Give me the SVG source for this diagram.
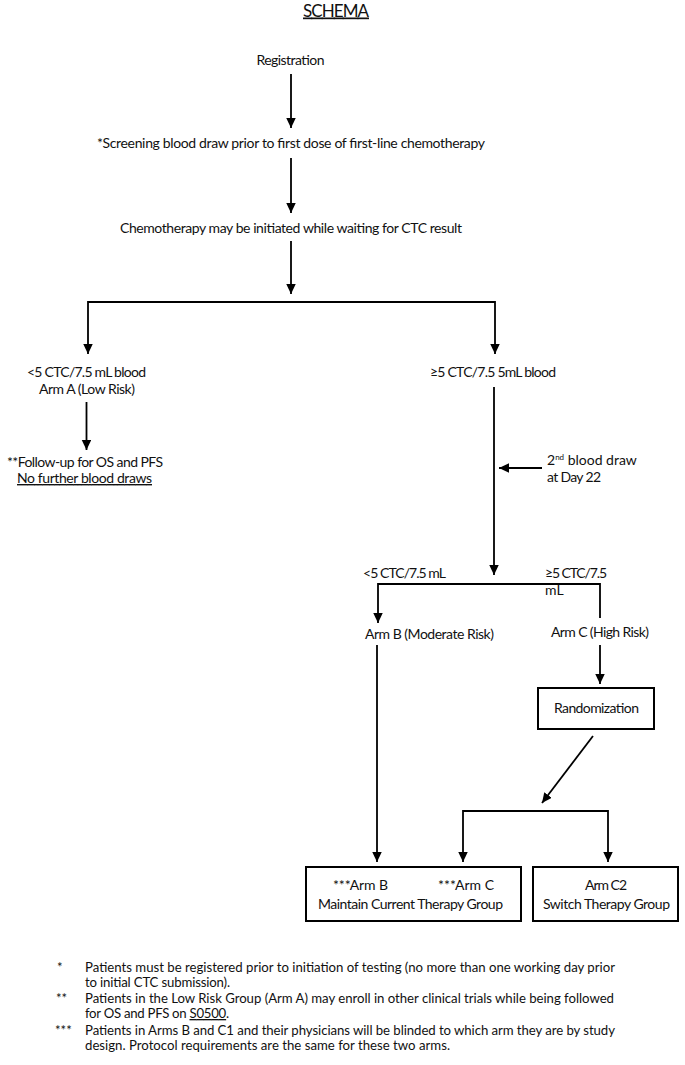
<svg xmlns="http://www.w3.org/2000/svg" width="685" height="1065" viewBox="0 0 685 1065">
<style>
text{font-family:Lato,"Open Sans","Liberation Sans",sans-serif;fill:#111;}
.t{font-size:14px;}
.c{text-anchor:middle;}
.f{font-size:13.2px;}
.u{text-decoration:underline;}
.ln{fill:none;stroke:#000;stroke-width:1.8;}
.ar{marker-end:url(#ah);}
.box{fill:#fff;stroke:#000;stroke-width:2;}
</style>
<defs>
<marker id="ah" markerUnits="userSpaceOnUse" markerWidth="10" markerHeight="10" refX="10" refY="4.75" orient="auto">
<path d="M0,0 L10,4.75 L0,9.5 z" fill="#000"/>
</marker>
</defs>
<rect width="685" height="1065" fill="#fff"/>
<g id="title"><text x="336" y="16.5" class="c u" font-size="17" textLength="66">SCHEMA</text></g>
<g id="connectors">
<path class="ln ar" d="M291,74 V128"/>
<path class="ln ar" d="M291,158 V213"/>
<path class="ln ar" d="M291,241 V294"/>
<path class="ln ar" d="M291,302 H88 V354"/>
<path class="ln ar" d="M291,302 H495 V354"/>
<path class="ln ar" d="M86.5,402 V450"/>
<path class="ln ar" d="M494,387 V575"/>
<path class="ln ar" d="M542,468 H499"/>
<path class="ln ar" d="M600,618 V584 H378 V623"/>
<path class="ln ar" d="M600,645 V684"/>
<path class="ln ar" d="M377,645 V862"/>
<path class="ln ar" d="M593,736 L542,803"/>
<path class="ln ar" d="M535,811 H463 V862"/>
<path class="ln ar" d="M535,811 H608 V862"/>
</g>
<g id="registration"><text class="t c" x="290.5" y="65" textLength="68">Registration</text></g>
<g id="screening"><text class="t c" x="291" y="148" textLength="388">*Screening blood draw prior to first dose of first-line chemotherapy</text></g>
<g id="chemo"><text class="t c" x="291" y="233" textLength="342">Chemotherapy may be initiated while waiting for CTC result</text></g>
<g id="armA">
<text class="t c" x="86.5" y="377" textLength="119">&lt;5 CTC/7.5 mL blood</text>
<text class="t c" x="87" y="394" textLength="96">Arm A (Low Risk)</text>
</g>
<g id="followup">
<text class="t c" x="85" y="467" textLength="156">**Follow-up for OS and PFS</text>
<text class="t c u" x="84.5" y="483" textLength="135">No further blood draws</text>
</g>
<g id="high">
<text class="t c" x="493" y="377" textLength="126">≥5 CTC/7.5 5mL blood</text>
</g>
<g id="seconddraw">
<text class="t" x="547" y="465">2<tspan font-size="8" baseline-shift="super">nd</tspan> blood draw</text>
<text class="t" x="547" y="482" textLength="54">at Day 22</text>
</g>
<g id="splitlabels">
<text class="t" x="363" y="578" textLength="83">&lt;5 CTC/7.5 mL</text>
<text class="t" x="545" y="578" textLength="62">≥5 CTC/7.5</text>
<text class="t" x="545" y="595">mL</text>
</g>
<g id="armB"><text class="t" x="365" y="639" textLength="129">Arm B (Moderate Risk)</text></g>
<g id="armC"><text class="t" x="551" y="637" textLength="98">Arm C (High Risk)</text></g>
<g id="randomization">
<rect class="box" x="538" y="688" width="116" height="41"/>
<text class="t c" x="596.5" y="713" textLength="85">Randomization</text>
</g>
<g id="maintain">
<rect class="box" x="306" y="867" width="215" height="54"/>
<text class="t" x="333" y="890" textLength="55">***Arm B</text>
<text class="t" x="438" y="890" textLength="56">***Arm C</text>
<text class="t c" x="410.5" y="909" textLength="185">Maintain Current Therapy Group</text>
</g>
<g id="switch">
<rect class="box" x="533" y="867" width="145" height="54"/>
<text class="t c" x="606" y="890" textLength="42">Arm C2</text>
<text class="t c" x="606.5" y="909" textLength="127">Switch Therapy Group</text>
</g>
<g id="footnotes">
<text class="f" x="57" y="972">*</text>
<text class="f" x="85" y="972" textLength="530">Patients must be registered prior to initiation of testing (no more than one working day prior</text>
<text class="f" x="85" y="987" textLength="145">to initial CTC submission).</text>
<text class="f" x="56" y="1003">**</text>
<text class="f" x="85" y="1003" textLength="529">Patients in the Low Risk Group (Arm A) may enroll in other clinical trials while being followed</text>
<text class="f" x="85" y="1018" textLength="144">for OS and PFS on <tspan class="u">S0500</tspan>.</text>
<text class="f" x="55" y="1035">***</text>
<text class="f" x="85" y="1035" textLength="530">Patients in Arms B and C1 and their physicians will be blinded to which arm they are by study</text>
<text class="f" x="85" y="1050" textLength="365">design. Protocol requirements are the same for these two arms.</text>
</g>
</svg>
